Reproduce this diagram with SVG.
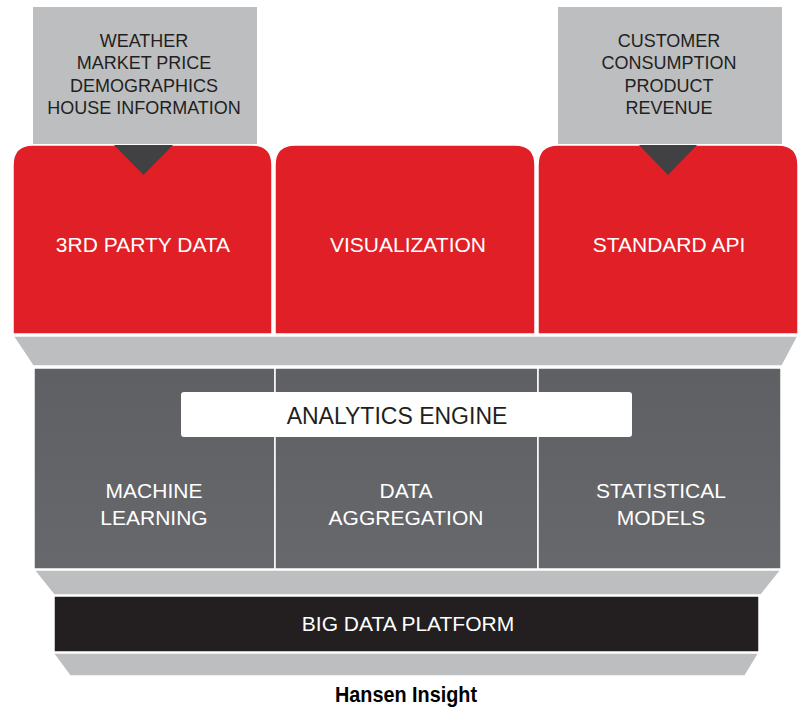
<svg xmlns="http://www.w3.org/2000/svg" width="798" height="707" viewBox="0 0 798 707">
  <defs>
    <style>
      .src { fill: #bcbec0; }
      .red { fill: #e11f26; stroke: #ffffff; stroke-width: 1.5; }
      .band { fill: #bcbec0; stroke: #ffffff; stroke-width: 1.5; }
      .eng { fill: url(#engGrad); stroke: #ffffff; stroke-width: 1.5; }
      .plat { fill: #231f20; stroke: #ffffff; stroke-width: 1.5; }
      .tri { fill: #414042; }
      .t { font-family: "Liberation Sans", Arial, sans-serif; text-anchor: middle; }
      .dark { fill: #231f20; font-size: 18px; }
      .white { fill: #ffffff; font-size: 21px; }
      .title { fill: #000000; font-size: 22px; font-weight: bold; }
    </style>
    <linearGradient id="engGrad" x1="0" y1="0" x2="0" y2="1">
      <stop offset="0" stop-color="#5f6064"/>
      <stop offset="1" stop-color="#67686b"/>
    </linearGradient>
  </defs>

  <!-- data sources -->
  <g id="source-external">
    <rect class="src" x="33" y="7" width="224" height="137"/>
    <text class="t dark" x="144" y="46.5">WEATHER</text>
    <text class="t dark" x="144" y="68.5">MARKET PRICE</text>
    <text class="t dark" x="144" y="91.5">DEMOGRAPHICS</text>
    <text class="t dark" x="144" y="113.5">HOUSE INFORMATION</text>
  </g>
  <g id="source-internal">
    <rect class="src" x="558" y="7" width="224" height="137"/>
    <text class="t dark" x="669" y="46.5">CUSTOMER</text>
    <text class="t dark" x="669" y="68.5">CONSUMPTION</text>
    <text class="t dark" x="669" y="91.5">PRODUCT</text>
    <text class="t dark" x="669" y="113.5">REVENUE</text>
  </g>

  <!-- top tier -->
  <g id="third-party-data">
    <path class="red" d="M13,334 V165 Q13,145 33,145 H252 Q272,145 272,165 V334 Z"/>
    <text class="t white" x="143" y="251.5">3RD PARTY DATA</text>
  </g>
  <g id="visualization">
    <path class="red" d="M275,334 V165 Q275,145 295,145 H515 Q535,145 535,165 V334 Z"/>
    <text class="t white" x="408" y="251.5">VISUALIZATION</text>
  </g>
  <g id="standard-api">
    <path class="red" d="M538,334 V165 Q538,145 558,145 H778 Q798,145 798,165 V334 Z"/>
    <text class="t white" x="669" y="251.5">STANDARD API</text>
  </g>

  <!-- flow markers from sources into the top tier -->
  <g id="connectors">
    <polygon class="tri" points="114,145 173,145 143.5,175"/>
    <polygon class="tri" points="639,145 697,145 668,175"/>
  </g>

  <!-- shelf under the top tier -->
  <g id="shelf-top">
    <polygon class="band" points="13,336 798,336 782,366 33,366"/>
  </g>

  <!-- analytics tier -->
  <g id="analytics">
    <rect class="eng" x="34" y="368" width="241" height="201"/>
    <rect class="eng" x="275" y="368" width="263" height="201"/>
    <rect class="eng" x="538" y="368" width="243" height="201"/>
  </g>
  <g id="analytics-engine">
    <rect x="181" y="392" width="451" height="45" rx="3" fill="#ffffff"/>
    <text class="t" x="397" y="424" font-size="23" fill="#231f20">ANALYTICS ENGINE</text>
  </g>
  <g id="machine-learning">
    <text class="t white" x="154" y="498">MACHINE</text>
    <text class="t white" x="154" y="525">LEARNING</text>
  </g>
  <g id="data-aggregation">
    <text class="t white" x="406" y="498">DATA</text>
    <text class="t white" x="406" y="525">AGGREGATION</text>
  </g>
  <g id="statistical-models">
    <text class="t white" x="661" y="498">STATISTICAL</text>
    <text class="t white" x="661" y="525">MODELS</text>
  </g>

  <!-- shelf under the analytics tier -->
  <g id="shelf-middle">
    <polygon class="band" points="34,570 781,570 761,595 54,595"/>
  </g>

  <!-- platform -->
  <g id="big-data-platform">
    <rect class="plat" x="54" y="596" width="705" height="56"/>
    <text class="t white" x="408" y="631">BIG DATA PLATFORM</text>
  </g>

  <!-- base shelf -->
  <g id="shelf-bottom">
    <polygon class="band" points="53,653 759,653 745,676 70,676"/>
  </g>

  <text class="t title" x="406" y="702" textLength="142" lengthAdjust="spacingAndGlyphs">Hansen Insight</text>
</svg>
